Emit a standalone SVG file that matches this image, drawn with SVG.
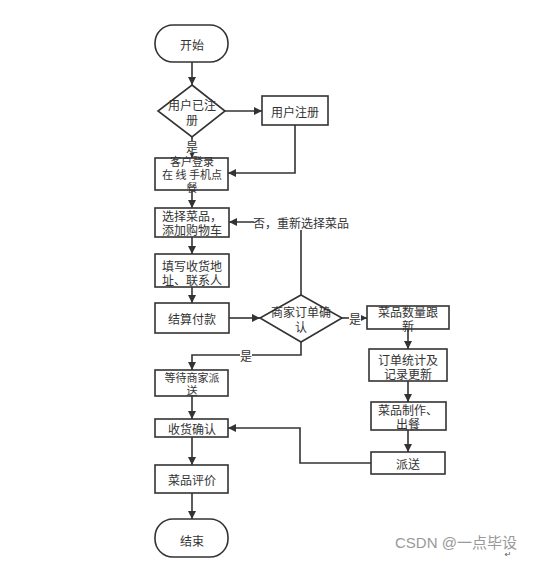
<svg xmlns="http://www.w3.org/2000/svg" width="546" height="561" viewBox="0 0 546 561">
<defs>
<marker id="ah" viewBox="0 0 10 10" refX="10" refY="5" markerWidth="8" markerHeight="8" markerUnits="userSpaceOnUse" orient="auto">
<path d="M0,0 L10,5 L0,10 z" fill="#333"/>
</marker>
</defs>
<style>
.n{fill:#fff;stroke:#333;stroke-width:1.6}
.t{font-family:"Noto Sans CJK SC","Liberation Sans",sans-serif;font-size:12px;fill:#333;text-anchor:middle;dominant-baseline:central}
.s{font-size:11px}
.e{fill:none;stroke:#333;stroke-width:1.6}
.lb{font-family:"Noto Sans CJK SC","Liberation Sans",sans-serif;font-size:12px;fill:#333;text-anchor:middle;dominant-baseline:central}
</style>
<rect width="546" height="561" fill="#fff"/>
<g id="connectors">
<path class="e" d="M192,62 V85" marker-end="url(#ah)"/>
<path class="e" d="M225,111 H262" marker-end="url(#ah)"/>
<path class="e" d="M192,137 V158" marker-end="url(#ah)"/>
<path class="e" d="M295,125 V173 H228" marker-end="url(#ah)"/>
<path class="e" d="M192,190 V208" marker-end="url(#ah)"/>
<path class="e" d="M192,237 V254" marker-end="url(#ah)"/>
<path class="e" d="M192,287 V303" marker-end="url(#ah)"/>
<path class="e" d="M229,318 H260" marker-end="url(#ah)"/>
<path class="e" d="M301,295 V222 H229" marker-end="url(#ah)"/>
<path class="e" d="M342,318 H367" marker-end="url(#ah)"/>
<path class="e" d="M301,342 V355 H192 V370" marker-end="url(#ah)"/>
<path class="e" d="M408,329 V349" marker-end="url(#ah)"/>
<path class="e" d="M408,381 V402" marker-end="url(#ah)"/>
<path class="e" d="M408,430 V452" marker-end="url(#ah)"/>
<path class="e" d="M371,463 H300 V428 H228" marker-end="url(#ah)"/>
<path class="e" d="M192,396 V419" marker-end="url(#ah)"/>
<path class="e" d="M192,437 V465" marker-end="url(#ah)"/>
<path class="e" d="M192,493 V519" marker-end="url(#ah)"/>
<rect x="186" y="141" width="12" height="12" fill="#fff"/>
<text class="lb" x="192" y="146">是</text>
<rect x="254" y="215" width="95" height="15" fill="#fff"/>
<text class="lb" x="301" y="222">否，重新选择菜品</text>
<rect x="349" y="311" width="12" height="14" fill="#fff"/>
<text class="lb" x="355" y="318">是</text>
<rect x="240" y="348" width="12" height="14" fill="#fff"/>
<text class="lb" x="246" y="355">是</text>
</g>
<g id="start"><rect class="n" x="155" y="25" width="73" height="37" rx="18" ry="18"/><text class="t" x="192" y="44">开始</text></g>
<g id="registered"><path class="n" d="M192,85 L225,111 L192,137 L158,111 z"/><text class="t" x="192" y="104">用户已注</text><text class="t" x="192" y="119">册</text></g>
<g id="register"><rect class="n" x="262" y="96" width="66" height="29"/><text class="t" x="295" y="111">用户注册</text></g>
<g id="login"><rect class="n" x="155" y="158" width="73" height="32"/><text class="t s" x="192" y="161">客户登录</text><text class="t s" x="192" y="174">在 线 手机点</text><text class="t s" x="192" y="187">餐</text></g>
<g id="select"><rect class="n" x="155" y="208" width="74" height="29"/><text class="t" x="192" y="215">选择菜品，</text><text class="t" x="192" y="229">添加购物车</text></g>
<g id="address"><rect class="n" x="155" y="254" width="74" height="33"/><text class="t" x="192" y="265">填写收货地</text><text class="t" x="192" y="279">址、联系人</text></g>
<g id="pay"><rect class="n" x="155" y="303" width="74" height="30"/><text class="t" x="192" y="318">结算付款</text></g>
<g id="confirm"><path class="n" d="M301,295 L342,318 L301,342 L260,318 z"/><text class="t" x="301" y="311">商家订单确</text><text class="t" x="301" y="326">认</text></g>
<g id="stock"><rect class="n" x="367" y="306" width="82" height="23"/><text class="t" x="408" y="311">菜品数量跟</text><text class="t" x="408" y="325">新</text></g>
<g id="stats"><rect class="n" x="369" y="349" width="78" height="32"/><text class="t" x="408" y="359">订单统计及</text><text class="t" x="408" y="373">记录更新</text></g>
<g id="cook"><rect class="n" x="371" y="402" width="75" height="28"/><text class="t" x="408" y="409">菜品制作、</text><text class="t" x="408" y="423">出餐</text></g>
<g id="deliver"><rect class="n" x="371" y="452" width="74" height="22"/><text class="t" x="408" y="463">派送</text></g>
<g id="wait"><rect class="n" x="155" y="370" width="73" height="26"/><text class="t s" x="192" y="377">等待商家派</text><text class="t s" x="192" y="390">送</text></g>
<g id="receive"><rect class="n" x="155" y="419" width="73" height="18"/><text class="t" x="192" y="428">收货确认</text></g>
<g id="review"><rect class="n" x="155" y="465" width="73" height="28"/><text class="t" x="192" y="479">菜品评价</text></g>
<g id="end"><rect class="n" x="155" y="519" width="73" height="38" rx="18" ry="18"/><text class="t" x="192" y="540">结束</text></g>
<text x="395" y="548" font-family="'Liberation Sans','Noto Sans CJK SC',sans-serif" font-size="15" fill="#999">CSDN @一点毕设</text>
<text x="508" y="557" font-family="'DejaVu Sans',sans-serif" font-size="8" fill="#555" text-anchor="middle">↵</text>
</svg>
